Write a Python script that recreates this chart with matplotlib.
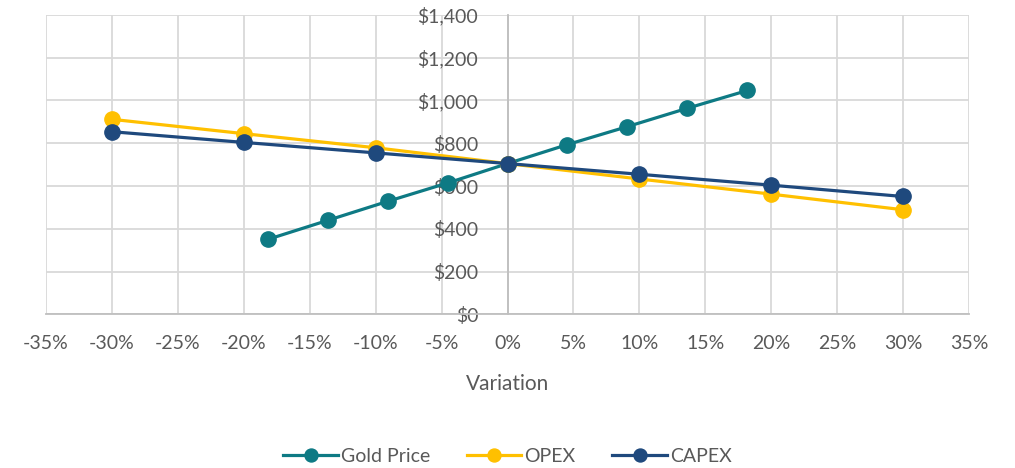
import matplotlib.pyplot as plt
import numpy as np
from matplotlib.ticker import FuncFormatter, MultipleLocator

# sensitivity data
gold_x = [-0.182, -0.136, -0.091, -0.045, 0.0, 0.045, 0.091, 0.136, 0.182]
gold_npv = [350, 440, 528, 615, 705, 793, 878, 963, 1047]

step_x = [-0.30, -0.20, -0.10, 0.0, 0.10, 0.20, 0.30]
opex_npv = [912, 845, 779, 705, 633, 562, 489]
capex_npv = [854, 804, 755, 705, 655, 604, 551]

series = [
    ("Gold Price", gold_x, gold_npv, "#0E7A84"),
    ("OPEX", step_x, opex_npv, "#FFC000"),
    ("CAPEX", step_x, capex_npv, "#1F497D"),
]

plt.rcParams["font.family"] = ["Lato", "DejaVu Sans"]
text_color = "#595959"

fig = plt.figure(figsize=(10.15, 4.68), dpi=100)
ax = fig.add_axes([0.0453, 0.3284, 0.9094, 0.6396])

for name, xs, ys, color in series:
    ax.plot(xs, ys, color=color, linewidth=2.3, marker="o", markersize=11,
            label=name, zorder=3)

ax.set_xlim(-0.35, 0.35)
ax.set_ylim(0, 1400)
ax.xaxis.set_major_locator(MultipleLocator(0.05))
ax.yaxis.set_major_locator(MultipleLocator(200))
ax.xaxis.set_major_formatter(FuncFormatter(lambda v, _: f"{v * 100:.0f}%"))
ax.yaxis.set_major_formatter(FuncFormatter(lambda v, _: f"${v:,.0f}"))

ax.grid(True, color="#D9D9D9", linewidth=1.3, zorder=0)
ax.set_axisbelow(True)
for side in ("top", "right"):
    ax.spines[side].set_visible(False)
ax.spines["left"].set_position(("data", 0))
ax.spines["left"].set_color("#BFBFBF")
ax.spines["left"].set_linewidth(1.3)
ax.spines["bottom"].set_color("#BFBFBF")
ax.spines["bottom"].set_linewidth(1.3)

ax.tick_params(axis="both", length=0, labelsize=14, labelcolor=text_color)
ax.tick_params(axis="x", pad=15)
ax.tick_params(axis="y", pad=21)

ax.set_xlabel("Variation", fontsize=15, color=text_color, labelpad=16)

fig.legend(loc="lower center", bbox_to_anchor=(0.5, -0.03), ncol=3,
           frameon=False, fontsize=14, labelcolor=text_color,
           handlelength=2.8, columnspacing=1.9, handletextpad=0.15,
           markerscale=0.85)

fig.savefig("out.png", dpi=100)
plt.close(fig)
